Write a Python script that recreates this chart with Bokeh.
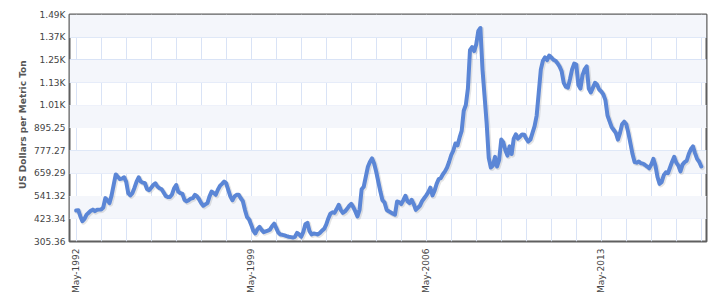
import numpy as np
from bokeh.plotting import figure
from bokeh.layouts import row
from bokeh.models import Range1d, FixedTicker, BoxAnnotation, ColumnDataSource
from bokeh.core.properties import value
from bokeh.embed import file_html
from bokeh.resources import INLINE

# Monthly values, May-1992 onward (US Dollars per Metric Ton)
values = [
    466, 468, 437, 411, 423, 445, 455, 465, 471, 463,
    470, 471, 472, 482, 531, 519, 505, 545, 600, 654,
    642, 630, 632, 639, 617, 557, 545, 557, 585, 617,
    639, 617, 611, 608, 578, 572, 585, 599, 608, 591,
    582, 577, 560, 542, 536, 537, 550, 582, 599, 565,
    557, 553, 522, 514, 520, 528, 531, 548, 540, 525,
    505, 491, 498, 505, 540, 565, 557, 548, 574, 594,
    605, 617, 608, 574, 540, 520, 540, 548, 548, 530,
    515, 470, 433, 420, 393, 362, 347, 370, 381, 366,
    354, 358, 362, 367, 385, 398, 376, 352, 342, 340,
    337, 333, 330, 328, 326, 330, 350, 342, 330, 355,
    395, 402, 359, 342, 347, 345, 342, 350, 362, 371,
    393, 425, 450, 457, 454, 474, 496, 470, 454, 462,
    475, 490, 501, 484, 462, 436, 470, 577, 590, 642,
    694, 720, 737, 711, 668, 616, 565, 520, 508, 470,
    462, 456, 450, 445, 513, 510, 500, 520, 543, 515,
    505, 522, 500, 470, 480, 492, 515, 530, 545, 562,
    585, 545, 570, 605, 630, 635, 655, 670, 690, 720,
    755, 778, 815, 805, 845, 880, 985, 1015, 1100, 1300,
    1316, 1295, 1330, 1400, 1415, 1200, 1060, 920, 740, 690,
    700, 745, 695, 730, 835, 820, 780, 752, 800, 760,
    840, 862, 840, 850, 862, 860, 840, 825, 835, 870,
    905, 960, 1080, 1200, 1245, 1262, 1248, 1272, 1262, 1250,
    1245, 1232, 1215, 1190, 1130, 1110, 1105, 1150, 1200, 1230,
    1225, 1120, 1100, 1170, 1200, 1215, 1100, 1080, 1105, 1130,
    1120, 1095, 1085, 1070, 1040, 960, 930, 900, 885, 870,
    835, 870, 915, 928, 915, 870, 815, 760, 718, 715,
    721, 712, 710, 703, 695, 686, 705, 735, 700, 640,
    605, 615, 650, 665, 660, 690, 720, 745, 715, 700,
    670, 705, 718, 725, 760, 785, 800, 765, 735, 720,
    695,
]
months = list(range(len(values)))

x_tick_months = [0, 84, 168, 252]
x_tick_labels = ["May-1992", "May-1999", "May-2006", "May-2013"]
y_ticks = [305.36, 423.34, 541.32, 659.29, 777.27, 895.25,
           1013.22, 1131.20, 1249.18, 1367.16, 1485.13]
y_tick_labels = ["305.36", "423.34", "541.32", "659.29", "777.27", "895.25",
                 "1.01K", "1.13K", "1.25K", "1.37K", "1.49K"]
y_title = "US Dollars per Metric Ton"

FONT = "DejaVu Sans"

# narrow strip holding the rotated y-axis title
t = figure(width=30, height=307, output_backend="svg", toolbar_location=None,
           x_range=Range1d(0, 30), y_range=Range1d(0, 307),
           min_border=0, min_border_left=0, min_border_right=0,
           min_border_top=0, min_border_bottom=0)
t.axis.visible = False
t.grid.visible = False
t.outline_line_color = None
t.background_fill_color = "white"
t.border_fill_color = "white"
t.text(x=[22], y=[158], text=[y_title], angle=np.pi / 2,
       text_align="center", text_baseline="middle",
       text_font=value(FONT), text_font_size="9px", text_font_style="bold",
       text_color="#555555")

p = figure(width=691, height=307, output_backend="svg", toolbar_location=None,
           x_range=Range1d(-3.2, 302.5), y_range=Range1d(y_ticks[0], y_ticks[-1]),
           min_border_left=39, min_border_right=15, min_border_top=14, min_border_bottom=66)
p.background_fill_color = "white"
p.border_fill_color = "white"
p.outline_line_color = "#5f5f5f"
p.outline_line_width = 2

# alternating bands
for i in range(1, len(y_ticks) - 1, 2):
    p.add_layout(BoxAnnotation(bottom=y_ticks[i], top=y_ticks[i + 1],
                               fill_color="#f4f6fb", fill_alpha=1.0,
                               line_color=None, level="underlay"))

# grids
p.xgrid.ticker = FixedTicker(ticks=list(range(0, len(values), 12)))
p.ygrid.ticker = FixedTicker(ticks=y_ticks)
p.xgrid.grid_line_color = "#d9e3f6"
p.ygrid.grid_line_color = "#d9e3f6"
p.xgrid.grid_line_width = 1
p.ygrid.grid_line_width = 1

# axes
p.xaxis.ticker = FixedTicker(ticks=x_tick_months)
p.xaxis.major_label_overrides = dict(zip(x_tick_months, x_tick_labels))
p.xaxis.major_label_orientation = np.pi / 2
p.yaxis.ticker = FixedTicker(ticks=y_ticks)
p.yaxis.major_label_overrides = dict(zip(y_ticks, y_tick_labels))
for ax in (p.xaxis, p.yaxis):
    ax.axis_line_color = None
    ax.major_tick_line_color = None
    ax.minor_tick_line_color = None
    ax.major_tick_out = 0
    ax.major_tick_in = 0
    ax.minor_tick_out = 0
    ax.major_label_text_font = FONT
    ax.major_label_text_font_size = "9px"
    ax.major_label_text_color = "#444444"
p.xaxis.major_label_standoff = 7
p.yaxis.major_label_standoff = 4

# shadow + line
shadow = ColumnDataSource(dict(x=[m + 0.5 for m in months], y=[v - 5.5 for v in values]))
p.line("x", "y", source=shadow, line_color="black", line_alpha=0.10, line_width=5,
       line_join="round", line_cap="round")
src = ColumnDataSource(dict(x=months, y=values))
p.line("x", "y", source=src, line_color="#5b86d6", line_width=4,
       line_join="round", line_cap="round")

layout = row(t, p, spacing=0)
open("out.html", "w").write(file_html(layout, INLINE))
